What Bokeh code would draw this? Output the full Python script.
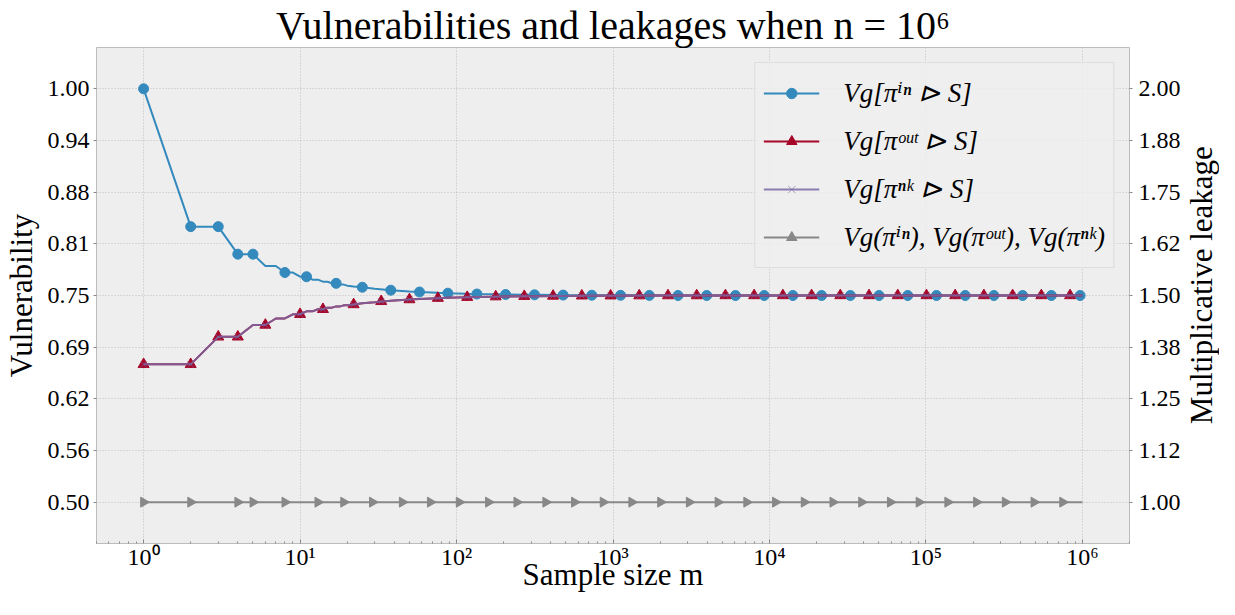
import math
from bokeh.plotting import figure
from bokeh.layouts import row
from bokeh.models import Range1d, LinearAxis, FixedTicker, Legend, LegendItem
from bokeh.core.properties import value
from bokeh.embed import file_html
from bokeh.resources import INLINE

# ---------------- data ----------------
m_line = [1, 2, 3, 4, 5, 6, 7, 8, 9, 10, 11, 12, 13, 14, 15, 16, 17, 18, 19, 20,
          22, 25, 30, 38, 50, 58, 76, 88, 117, 135, 178, 206, 271, 315, 480, 732,
          1118, 1706, 3972, 9250, 100000, 1000000]
v_in_line = [1.0, 0.8333, 0.8333, 0.8, 0.8, 0.7857, 0.7857, 0.7778, 0.7778, 0.7727,
             0.7727, 0.7692, 0.7692, 0.7667, 0.7667, 0.7647, 0.7647, 0.7632, 0.7632, 0.7619,
             0.7609, 0.76, 0.7581, 0.7564, 0.7549, 0.7542, 0.7532, 0.7528, 0.7521, 0.7518,
             0.7514, 0.7512, 0.7509, 0.7508, 0.7505, 0.7503, 0.7502, 0.7501, 0.75, 0.75,
             0.75, 0.75]
v_out_line = [0.6667, 0.6667, 0.7, 0.7, 0.7143, 0.7143, 0.7222, 0.7222, 0.7273, 0.7273,
              0.7308, 0.7308, 0.7333, 0.7333, 0.7353, 0.7353, 0.7368, 0.7368, 0.7381, 0.7381,
              0.7391, 0.7407, 0.7419, 0.7436, 0.7451, 0.7458, 0.7468, 0.7472, 0.7479, 0.7482,
              0.7486, 0.7488, 0.7491, 0.7492, 0.7495, 0.7497, 0.7498, 0.7499, 0.7499, 0.75,
              0.75, 0.75]
m_base_line = [1, 1000000]
v_base_line = [0.5, 0.5]

m_in_mark = [1, 2, 3, 4, 5, 8, 11, 17, 25, 38, 58, 88, 135, 206, 315, 480, 732, 1118,
             1706, 2603, 3972, 6062, 9250, 14115, 21540, 32870, 50150, 76540, 116800,
             178200, 271900, 415000, 633300, 966500]
v_in_mark = [1.0, 0.8333, 0.8333, 0.8, 0.8, 0.7778, 0.7727, 0.7647, 0.76, 0.7564, 0.7542,
             0.7528, 0.7518, 0.7512, 0.7508, 0.7505, 0.7503, 0.7502, 0.7501, 0.75, 0.75,
             0.75, 0.75, 0.75, 0.75, 0.75, 0.75, 0.75, 0.75, 0.75, 0.75, 0.75, 0.75, 0.75]

m_out_mark = [1, 2, 3, 4, 6, 10, 14, 22, 33, 50, 76, 117, 178, 271, 414, 632, 965, 1472,
              2246, 3428, 5231, 7982, 12180, 18590, 28360, 43280, 66040, 100800, 153800,
              234700, 358100, 546500, 833900]
v_out_mark = [0.6667, 0.6667, 0.7, 0.7, 0.7143, 0.7273, 0.7333, 0.7391, 0.7429, 0.7451,
              0.7468, 0.7479, 0.7486, 0.7491, 0.7494, 0.7496, 0.7497, 0.7498, 0.7499, 0.7499,
              0.75, 0.75, 0.75, 0.75, 0.75, 0.75, 0.75, 0.75, 0.75, 0.75, 0.75, 0.75, 0.75]

m_base_mark = [1, 2, 4, 5, 8, 13, 19, 29, 45, 68, 104, 160, 243, 372, 567, 865, 1319,
               2014, 3073, 4690, 7158, 10920, 16670, 25430, 38810, 59230, 90370, 137900,
               210500, 321200, 490200, 748100]
v_base_mark = [0.5, 0.5, 0.5, 0.5, 0.5, 0.5, 0.5, 0.5, 0.5, 0.5, 0.5, 0.5, 0.5, 0.5, 0.5,
               0.5, 0.5, 0.5, 0.5, 0.5, 0.5, 0.5, 0.5, 0.5, 0.5, 0.5, 0.5, 0.5, 0.5, 0.5,
               0.5, 0.5]

x_ticks = [1, 10, 100, 1000, 10000, 100000, 1000000]
x_tick_labels = ["10⁰", "10¹", "10²", "10³", "10⁴", "10⁵", "10⁶"]
y_ticks = [0.5, 0.5625, 0.625, 0.6875, 0.75, 0.8125, 0.875, 0.9375, 1.0]
y_tick_labels = ["0.50", "0.56", "0.62", "0.69", "0.75", "0.81", "0.88", "0.94", "1.00"]
y2_ticks = [1.0, 1.125, 1.25, 1.375, 1.5, 1.625, 1.75, 1.875, 2.0]
y2_tick_labels = ["1.00", "1.12", "1.25", "1.38", "1.50", "1.62", "1.75", "1.88", "2.00"]

series_labels = ["Vg[πⁱⁿ ⊳ S]", "Vg[πᵒᵘᵗ ⊳ S]", "Vg[πⁿᵏ ⊳ S]",
                 "Vg(πⁱⁿ), Vg(πᵒᵘᵗ), Vg(πⁿᵏ)"]
right_label = "Multiplicative leakage"

# ---------------- layout / styling ----------------
FONT = "Liberation Serif"
LEGEND_FONT = "Liberation Serif, DejaVu Serif"
BLUE, RED, PURPLE, GRAY = "#348ABD", "#A60628", "#7A68A6", "#888888"
H = 599
MAIN_W = 1183
SIDE_W = 36
BORDER_TOP, BORDER_BOTTOM = 39, 56

p = figure(width=MAIN_W, height=H, x_axis_type="log",
           x_range=Range1d(0.5, 2.0e6), y_range=Range1d(0.45, 1.05),
           output_backend="svg", toolbar_location=None,
           title="Vulnerabilities and leakages when n = 10⁶",
           min_border_left=89, min_border_right=50, min_border_top=BORDER_TOP,
           min_border_bottom=BORDER_BOTTOM)

p.background_fill_color = "#eeeeee"
p.border_fill_color = "white"
p.outline_line_color = "#bcbcbc"
p.outline_line_width = 1

p.title.text_font = FONT
p.title.text_font_size = "40px"
p.title.text_font_style = "normal"
p.title.text_color = "black"
p.title.align = "center"
p.title.standoff = 0
p.title.offset = 0

p.extra_y_ranges = {"leak": Range1d(0.9, 2.1)}
right_axis = LinearAxis(y_range_name="leak")
p.add_layout(right_axis, "right")

xa = p.xaxis[0]
xa.ticker = FixedTicker(ticks=x_ticks,
                        minor_ticks=[k * 10.0 ** e for e in range(-1, 7) for k in range(2, 10)])
xa.major_label_overrides = dict(zip([float(t) for t in x_ticks], x_tick_labels))
xa.axis_label = "Sample size m"

ya = p.yaxis[0]
ya.ticker = FixedTicker(ticks=y_ticks)
ya.major_label_overrides = dict(zip(y_ticks, y_tick_labels))
ya.axis_label = "Vulnerability"

right_axis.ticker = FixedTicker(ticks=y2_ticks)
right_axis.major_label_overrides = dict(zip(y2_ticks, y2_tick_labels))

for ax in [xa, ya, right_axis]:
    ax.axis_line_color = None
    ax.major_label_text_font = FONT
    ax.major_label_text_font_size = "24px"
    ax.major_label_text_color = "black"
    ax.axis_label_text_font = FONT
    ax.axis_label_text_font_size = "31px"
    ax.axis_label_text_font_style = "normal"
    ax.axis_label_text_color = "black"
    ax.major_tick_line_color = "#888888"
    ax.minor_tick_line_color = "#888888"
    ax.major_label_standoff = 4
    ax.axis_label_standoff = 6

xa.major_tick_in = 4
xa.major_tick_out = 0
xa.minor_tick_in = 2
xa.minor_tick_out = 0
xa.major_label_standoff = 0
xa.axis_label_standoff = -16
for ax in [ya, right_axis]:
    ax.major_tick_in = 0
    ax.major_tick_out = 3
    ax.minor_tick_line_color = None
right_axis.major_label_standoff = 6

for g in [p.xgrid[0], p.ygrid[0]]:
    g.grid_line_color = "#b8b8b8"
    g.grid_line_dash = "1 2"
    g.grid_line_width = 1
    g.grid_line_alpha = 0.9
p.xgrid[0].ticker = FixedTicker(ticks=x_ticks)
p.ygrid[0].ticker = FixedTicker(ticks=y_ticks)

# ---------------- glyphs ----------------
l_in = p.line(m_line, v_in_line, line_color=BLUE, line_width=2)
s_in = p.scatter(m_in_mark, v_in_mark, marker="circle", size=10,
                 fill_color=BLUE, line_color=BLUE)
l_out = p.line(m_line, v_out_line, line_color=RED, line_width=2)
s_out = p.scatter(m_out_mark, v_out_mark, marker="triangle", size=11,
                  fill_color=RED, line_color=RED)
l_nk = p.line(m_line, v_out_line, line_color=PURPLE, line_width=2, line_alpha=0.85)
s_nk = p.scatter(m_out_mark, v_out_mark, marker="x", size=9,
                 line_color=PURPLE, line_width=1, line_alpha=0.6)
l_base = p.line(m_base_line, v_base_line, line_color=GRAY, line_width=2)
s_base = p.scatter(m_base_mark, v_base_mark, marker="triangle", size=10,
                   angle=-math.pi / 2, fill_color=GRAY, line_color=GRAY)

legend = Legend(items=[
    LegendItem(label=series_labels[0], renderers=[l_in, s_in]),
    LegendItem(label=series_labels[1], renderers=[l_out, s_out]),
    LegendItem(label=series_labels[2], renderers=[l_nk, s_nk]),
    LegendItem(label=series_labels[3], renderers=[l_base, s_base]),
], location="top_right")
legend.margin = 15
legend.padding = 8
legend.spacing = 4
legend.glyph_width = 56
legend.glyph_height = 26
legend.label_height = 44
legend.label_standoff = 24
legend.label_text_font = LEGEND_FONT
legend.label_text_font_size = "27px"
legend.label_text_font_style = "italic"
legend.label_text_color = "black"
legend.background_fill_color = "#eeeeee"
legend.background_fill_alpha = 0.85
legend.border_line_color = "#cccccc"
legend.border_line_width = 1
p.add_layout(legend)

# ---------------- right-hand axis title (reads bottom-to-top) ----------------
side = figure(width=SIDE_W, height=H, x_range=Range1d(0, 1), y_range=Range1d(0, H),
              output_backend="svg", toolbar_location=None,
              min_border_left=0, min_border_right=0, min_border_top=0, min_border_bottom=0)
side.axis.visible = False
side.grid.visible = False
side.outline_line_color = None
side.background_fill_color = "white"
frame_mid = (BORDER_BOTTOM + 8 + H - BORDER_TOP) / 2.0
side.text(x=[0.5], y=[frame_mid], text=[right_label], angle=math.pi / 2,
          text_align="center", text_baseline="middle",
          text_font=value(FONT), text_font_size=value("31px"), text_color="black")

layout = row(p, side)
open("out.html", "w").write(file_html(layout, INLINE))
